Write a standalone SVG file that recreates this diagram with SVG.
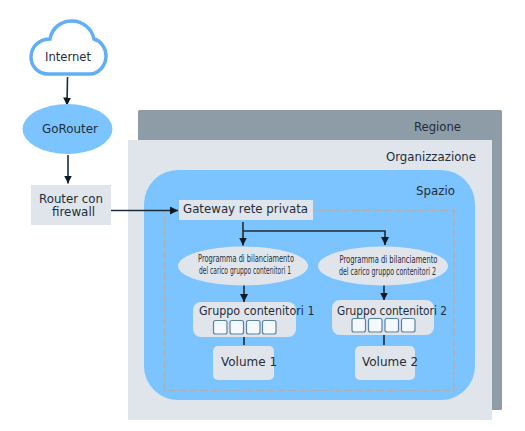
<svg xmlns="http://www.w3.org/2000/svg" width="525" height="431" viewBox="0 0 525 431">
<style>
text{font-family:"DejaVu Sans",sans-serif;font-size:12px;fill:#1f2d3a}
.s{font-size:10px}
.l{fill:#dfe5eb}
.b{fill:#7cc4ff}
.c{fill:#f5f8fd;stroke:#5a84a6;stroke-width:1.200}
.w{fill:none;stroke:#1a2c3c;stroke-width:1.600}
</style>
<defs><marker id="a" markerUnits="userSpaceOnUse" markerWidth="9" markerHeight="8" refX="8" refY="4" orient="auto"><path d="M0 0L8 4L0 8Z" fill="#0d1a26"/></marker></defs>
<rect width="525" height="431" fill="#fff"/>
<g id="regione"><rect x="138" y="110" width="364" height="300" rx="1.5" fill="#8d9ca7"/><text x="414" y="131" textLength="47" lengthAdjust="spacingAndGlyphs">Regione</text></g>
<g id="organizzazione"><rect x="128" y="140" width="364" height="280" class="l"/><text x="386" y="161" textLength="90" lengthAdjust="spacingAndGlyphs">Organizzazione</text></g>
<g id="spazio"><rect x="144" y="170" width="331" height="230" rx="34" class="b"/><text x="416" y="195" textLength="39" lengthAdjust="spacingAndGlyphs">Spazio</text></g>
<g id="rete-privata"><rect x="164.500" y="210.500" width="289.500" height="180" fill="none" stroke="#aab0b6" stroke-width="1.600" stroke-dasharray="8 3"/></g>
<g id="connectors">
<path class="w" marker-end="url(#a)" d="M67.500 77L67 105.500"/>
<path class="w" marker-end="url(#a)" d="M68 155L68 183.500"/>
<path class="w" marker-end="url(#a)" d="M110 210.500H178"/>
<path class="w" marker-end="url(#a)" d="M243 222V245.500"/>
<path class="w" marker-end="url(#a)" d="M243 231H385V245"/>
<path class="w" marker-end="url(#a)" d="M244 285V302"/>
<path class="w" marker-end="url(#a)" d="M384 285V300.500"/>
<path class="w" d="M244 337V345"/>
<path class="w" d="M384 335V345"/>
</g>
<g id="internet"><path d="M48 74C37 74 31 65 31 57C31 47 39 39 50 39C52 27 62 21 72 21C83 21 92 29 94 39C101 41 106 48 106 56C106 66 98 74 90 74Z" fill="#fff" stroke="#62aef5" stroke-width="3.500"/><text x="45" y="61" textLength="46" lengthAdjust="spacingAndGlyphs">Internet</text></g>
<g id="gorouter"><ellipse cx="67.500" cy="129" rx="45" ry="25" class="b"/><text x="42" y="133" textLength="56" lengthAdjust="spacingAndGlyphs">GoRouter</text></g>
<g id="router"><rect x="31" y="185" width="80" height="40" class="l"/><text x="39" y="203" textLength="64" lengthAdjust="spacingAndGlyphs">Router con</text><text x="52" y="216" textLength="43" lengthAdjust="spacingAndGlyphs">firewall</text></g>
<g id="gateway"><rect x="179" y="200" width="134" height="20" class="l"/><text x="183" y="213" textLength="125" lengthAdjust="spacingAndGlyphs">Gateway rete privata</text></g>
<g id="lb1"><ellipse cx="243" cy="266" rx="65" ry="19.500" class="l"/><text x="198" y="262" class="s" textLength="96" lengthAdjust="spacingAndGlyphs">Programma di bilanciamento</text><text x="199" y="274" class="s" textLength="92" lengthAdjust="spacingAndGlyphs">del carico gruppo contenitori 1</text></g>
<g id="lb2"><ellipse cx="383" cy="266" rx="65" ry="19.500" class="l"/><text x="339.500" y="263" class="s" textLength="98" lengthAdjust="spacingAndGlyphs">Programma di bilanciamento</text><text x="339" y="275" class="s" textLength="97" lengthAdjust="spacingAndGlyphs">del carico gruppo contenitori 2</text></g>
<g id="gruppo1"><rect x="193" y="302" width="103" height="35" rx="8" class="l"/><text x="199" y="315" textLength="115.500" lengthAdjust="spacingAndGlyphs">Gruppo contenitori 1</text>
<rect class="c" x="213.500" y="320.500" width="13.500" height="13.500" rx="2"/><rect class="c" x="230" y="320.500" width="13.500" height="13.500" rx="2"/><rect class="c" x="246.500" y="320.500" width="13.500" height="13.500" rx="2"/><rect class="c" x="262.500" y="320.500" width="13.500" height="13.500" rx="2"/></g>
<g id="gruppo2"><rect x="332" y="300" width="102" height="35" rx="8" class="l"/><text x="337" y="315" textLength="110" lengthAdjust="spacingAndGlyphs">Gruppo contenitori 2</text>
<rect class="c" x="352" y="318.500" width="13.500" height="13.500" rx="2"/><rect class="c" x="368.500" y="318.500" width="13.500" height="13.500" rx="2"/><rect class="c" x="385" y="318.500" width="13.500" height="13.500" rx="2"/><rect class="c" x="401.500" y="318.500" width="13.500" height="13.500" rx="2"/></g>
<g id="volume1"><rect x="213" y="346" width="61" height="34" rx="5" class="l"/><text x="221" y="366">Volume 1</text></g>
<g id="volume2"><rect x="355" y="346" width="60" height="34" rx="5" class="l"/><text x="362" y="366">Volume 2</text></g>
</svg>
